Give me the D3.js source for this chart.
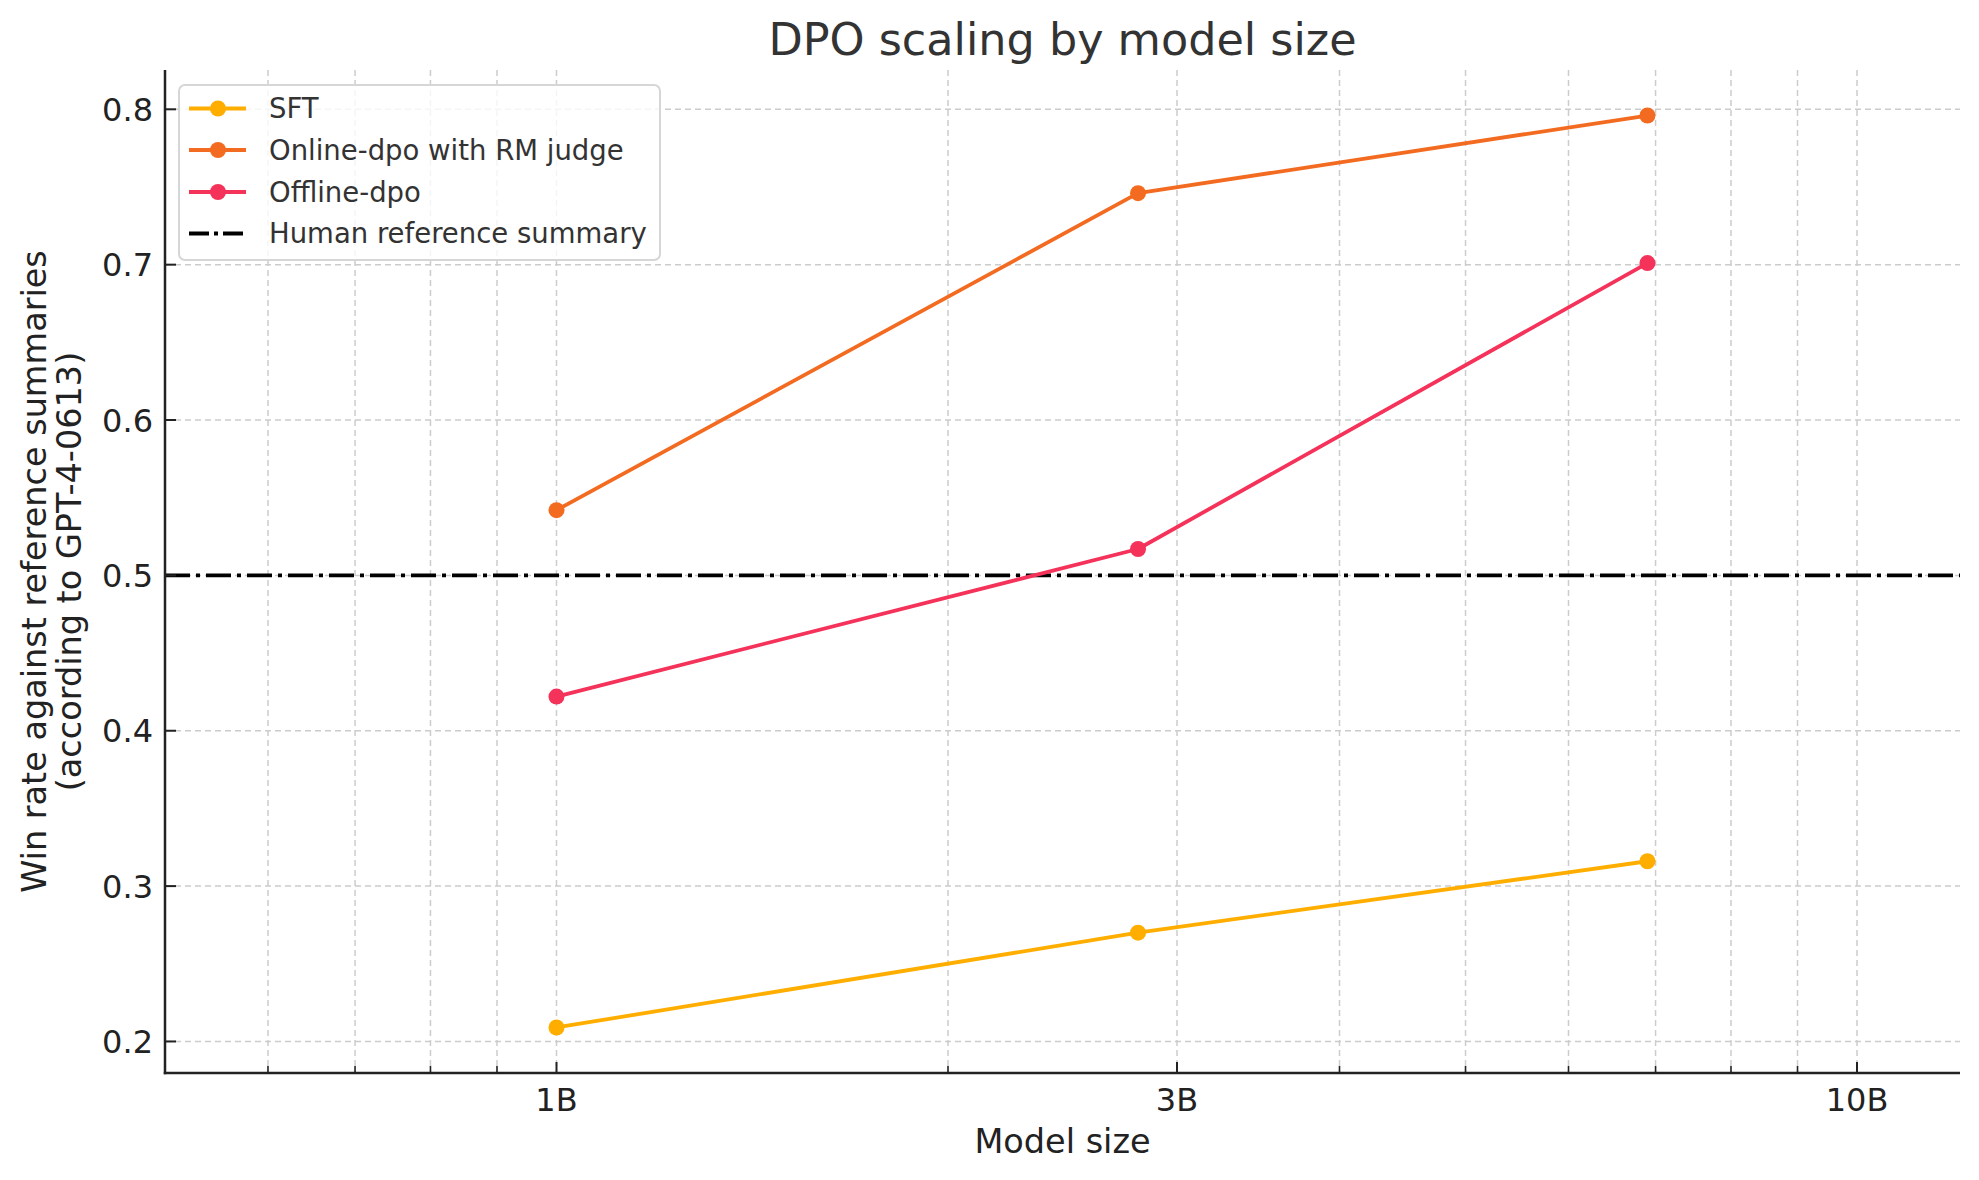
<!DOCTYPE html>
<html>
<head>
<meta charset="utf-8">
<script src="https://cdn.jsdelivr.net/npm/d3@7"></script>
<style>
  html, body { margin: 0; padding: 0; background: #fff; }
  svg { display: block; font-family: "DejaVu Sans", sans-serif; }
</style>
</head>
<body>
<svg id="chart" width="1979" height="1180"></svg>
<script>
// ---- data ----
const modelSizes = [1e9, 2.8e9, 6.9e9];
const sftValues = [0.209, 0.270, 0.316];
const onlineDpoValues = [0.542, 0.746, 0.796];
const offlineDpoValues = [0.422, 0.517, 0.701];
const humanReference = 0.5;

const seriesNames = ["SFT", "Online-dpo with RM judge", "Offline-dpo"];
const seriesColors = ["#FFAE00", "#F36B21", "#F4325A"];
const humanLabel = "Human reference summary";

const xMajorTicks = [1e9, 3e9, 1e10];
const xMajorLabels = ["1B", "3B", "10B"];
const xMinorTicks = [0.6e9, 0.7e9, 0.8e9, 0.9e9, 2e9, 4e9, 5e9, 6e9, 7e9, 8e9, 9e9];
const yTicks = [0.2, 0.3, 0.4, 0.5, 0.6, 0.7, 0.8];
const yTickLabels = ["0.2", "0.3", "0.4", "0.5", "0.6", "0.7", "0.8"];

const titleText = "DPO scaling by model size";
const xLabelText = "Model size";
const yLabelLines = ["Win rate against reference summaries", "(according to GPT-4-0613)"];

// ---- layout ----
(function () {
const svg = d3.select("#chart");
const pL = 165, pR = 1960, pT = 70, pB = 1073;

const x = d3.scaleLog().domain([0.5e9, 12e9]).range([pL, pR]);
const y = d3.scaleLinear().domain([0.1797, 0.8253]).range([pB, pT]);

// grid
const grid = svg.append("g");
grid.selectAll("line.vx").data(xMajorTicks.concat(xMinorTicks)).enter().append("line")
  .attr("x1", d => x(d)).attr("x2", d => x(d))
  .attr("y1", pT).attr("y2", pB)
  .attr("stroke", "#cccccc").attr("stroke-width", 1.5)
  .attr("stroke-dasharray", "6,4");
grid.selectAll("line.hy").data(yTicks).enter().append("line")
  .attr("x1", pL).attr("x2", pR)
  .attr("y1", d => y(d)).attr("y2", d => y(d))
  .attr("stroke", "#cccccc").attr("stroke-width", 1.5)
  .attr("stroke-dasharray", "6,4");

// human reference line
svg.append("line")
  .attr("x1", pL).attr("x2", pR)
  .attr("y1", y(humanReference)).attr("y2", y(humanReference))
  .attr("stroke", "#000").attr("stroke-width", 3.8)
  .attr("stroke-dasharray", "25,6,4,6");

// series
const allSeries = [sftValues, onlineDpoValues, offlineDpoValues];
const line = d3.line().x(d => x(d[0])).y(d => y(d[1]));
allSeries.forEach((vals, i) => {
  const pts = modelSizes.map((m, j) => [m, vals[j]]);
  svg.append("path").datum(pts)
    .attr("d", line)
    .attr("fill", "none")
    .attr("stroke", seriesColors[i])
    .attr("stroke-width", 3.8)
    .attr("stroke-linejoin", "round");
  svg.selectAll(null).data(pts).enter().append("circle")
    .attr("cx", d => x(d[0])).attr("cy", d => y(d[1]))
    .attr("r", 8).attr("fill", seriesColors[i]);
});

// axes (spines + inward ticks)
const axisColor = "#222";
svg.append("line").attr("x1", pL).attr("x2", pL).attr("y1", pT).attr("y2", pB + 1.25)
  .attr("stroke", axisColor).attr("stroke-width", 2.5);
svg.append("line").attr("x1", pL - 1.25).attr("x2", pR).attr("y1", pB).attr("y2", pB)
  .attr("stroke", axisColor).attr("stroke-width", 2.5);

svg.selectAll("line.xt").data(xMajorTicks).enter().append("line")
  .attr("x1", d => x(d)).attr("x2", d => x(d))
  .attr("y1", pB).attr("y2", pB - 11)
  .attr("stroke", axisColor).attr("stroke-width", 2);
svg.selectAll("line.xmt").data(xMinorTicks).enter().append("line")
  .attr("x1", d => x(d)).attr("x2", d => x(d))
  .attr("y1", pB).attr("y2", pB - 7)
  .attr("stroke", axisColor).attr("stroke-width", 1.6);
svg.selectAll("line.yt").data(yTicks).enter().append("line")
  .attr("x1", pL).attr("x2", pL + 11)
  .attr("y1", d => y(d)).attr("y2", d => y(d))
  .attr("stroke", axisColor).attr("stroke-width", 2);

// tick labels
svg.selectAll("text.xl").data(xMajorTicks).enter().append("text")
  .attr("x", d => x(d)).attr("y", pB + 38)
  .attr("text-anchor", "middle").attr("font-size", 32).attr("fill", "#222")
  .text((d, i) => xMajorLabels[i]);
svg.selectAll("text.yl").data(yTicks).enter().append("text")
  .attr("x", pL - 12).attr("y", d => y(d))
  .attr("dy", "0.36em")
  .attr("text-anchor", "end").attr("font-size", 32).attr("fill", "#222")
  .text((d, i) => yTickLabels[i]);

// axis labels
svg.append("text")
  .attr("x", (pL + pR) / 2).attr("y", 1153)
  .attr("text-anchor", "middle").attr("font-size", 33.5).attr("fill", "#222")
  .text(xLabelText);
const yl = svg.append("text")
  .attr("transform", `translate(46, ${(pT + pB) / 2}) rotate(-90)`)
  .attr("text-anchor", "middle").attr("font-size", 33.5).attr("fill", "#222");
yLabelLines.forEach((t, i) => {
  yl.append("tspan").attr("x", 0).attr("dy", i === 0 ? 0 : 35).text(t);
});

// title
svg.append("text")
  .attr("x", (pL + pR) / 2).attr("y", 55)
  .attr("text-anchor", "middle").attr("font-size", 44.5).attr("fill", "#333")
  .text(titleText);

// legend
const lg = svg.append("g");
lg.append("rect")
  .attr("x", 179).attr("y", 85).attr("width", 481).attr("height", 175)
  .attr("rx", 6).attr("ry", 6)
  .attr("fill", "#fff").attr("fill-opacity", 0.8)
  .attr("stroke", "#d6d6d6").attr("stroke-width", 2);
const rowY = [108.5, 150, 192, 233.5];
const entries = seriesNames.map((n, i) => ({ name: n, color: seriesColors[i], marker: true, dash: null }))
  .concat([{ name: humanLabel, color: "#000", marker: false, dash: "20,5,4,5" }]);
entries.forEach((e, i) => {
  const g = lg.append("g");
  g.append("line").attr("x1", 189).attr("x2", 246).attr("y1", rowY[i]).attr("y2", rowY[i])
    .attr("stroke", e.color).attr("stroke-width", 3.8)
    .attr("stroke-dasharray", e.dash);
  if (e.marker) {
    g.append("circle").attr("cx", 218).attr("cy", rowY[i]).attr("r", 8).attr("fill", e.color);
  }
  g.append("text").attr("x", 269).attr("y", rowY[i]).attr("dy", "0.36em")
    .attr("font-size", 27.5).attr("fill", "#333").text(e.name);
});
})();
</script>
</body>
</html>
